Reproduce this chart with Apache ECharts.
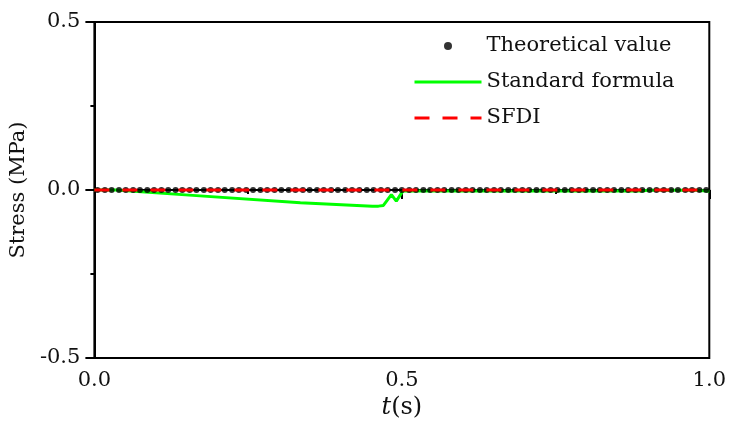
<!DOCTYPE html>
<html>
<head>
<meta charset="utf-8">
<script src="https://cdn.jsdelivr.net/npm/echarts@6/dist/echarts.min.js"></script>
<style>html,body{margin:0;padding:0;background:#fff}#c{width:729px;height:427px}</style>
</head>
<body>
<div id="c"></div>
<script>
// Theoretical value sample times (s) and stress (MPa)
var theoryTime = [0.005,0.017,0.028,0.040,0.051,0.063,0.074,0.086,0.097,0.109,0.120,0.132,0.143,0.155,0.166,0.178,0.189,0.201,0.212,0.224,0.235,0.247,0.258,0.270,0.281,0.293,0.304,0.316,0.327,0.339,0.350,0.362,0.373,0.385,0.396,0.408,0.419,0.431,0.443,0.454,0.466,0.477,0.489,0.500,0.512,0.523,0.535,0.546,0.558,0.569,0.581,0.592,0.604,0.615,0.627,0.638,0.650,0.661,0.673,0.684,0.696,0.707,0.719,0.730,0.742,0.753,0.765,0.776,0.788,0.799,0.811,0.822,0.834,0.845,0.857,0.868,0.880,0.891,0.903,0.914,0.926,0.938,0.949,0.961,0.972,0.984,0.995];
var theoryStress = [0,0,0,0,0,0,0,0,0,0,0,0,0,0,0,0,0,0,0,0,0,0,0,0,0,0,0,0,0,0,0,0,0,0,0,0,0,0,0,0,0,0,0,0,0,0,0,0,0,0,0,0,0,0,0,0,0,0,0,0,0,0,0,0,0,0,0,0,0,0,0,0,0,0,0,0,0,0,0,0,0,0,0,0,0,0,0];
// Standard formula
var stdTime   = [0, 0.035, 0.16, 0.335, 0.452, 0.462, 0.470, 0.483, 0.491, 0.502, 0.52, 0.89, 0.90, 0.98, 1.0];
var stdStress = [0, 0, -0.016, -0.038, -0.048, -0.048, -0.046, -0.014, -0.033, -0.002, -0.003, -0.003, -0.001, -0.001, -0.004];
// SFDI
var sfdiTime   = [0, 0.25, 0.5, 0.75, 1.0];
var sfdiStress = [0, 0, 0, 0, 0];
// axes
var xMin = 0, xMax = 1, xStep = 0.5;
var yMin = -0.5, yMax = 0.5, yStep = 0.5;

function pairs(a, b) { return a.map(function (v, i) { return [v, b[i]]; }); }

var FONT = 'DejaVu Serif';
var TXT = '#111';
var chart = echarts.init(document.getElementById('c'), null, {renderer: 'canvas'});
chart.setOption({
  animation: false,
  backgroundColor: '#fff',
  grid: {left: 93, right: 18, top: 22, bottom: 69, show: true, borderColor: '#000', borderWidth: 2, backgroundColor: 'transparent'},
  legend: {
    orient: 'vertical', left: 408, top: 29,
    itemWidth: 67, itemHeight: 8, itemGap: 12,
    textStyle: {fontFamily: FONT, fontSize: 21, color: TXT, lineHeight: 24},
    data: [
      {name: 'Theoretical value', itemStyle: {color: '#000'}},
      {name: 'Standard formula', itemStyle: {opacity: 0}, lineStyle: {width: 3}},
      {name: 'SFDI', itemStyle: {opacity: 0}, lineStyle: {width: 3}}
    ]
  },
  xAxis: {
    type: 'value', min: xMin, max: xMax, interval: xStep,
    name: '{i|t}(s)', nameLocation: 'middle', nameGap: 36,
    nameTextStyle: {fontFamily: FONT, fontSize: 24, color: TXT, rich: {i: {fontFamily: FONT, fontStyle: 'italic', fontSize: 24, color: TXT}}},
    axisLine: {lineStyle: {color: '#000', width: 2}},
    axisTick: {inside: false, length: 9, lineStyle: {color: '#000', width: 2}},
    minorTick: {show: true, splitNumber: 2, length: 4, lineStyle: {color: '#000', width: 2}},
    splitLine: {show: false},
    axisLabel: {fontFamily: FONT, fontSize: 21, color: TXT, margin: 12, formatter: function (v) { return v.toFixed(1); }}
  },
  yAxis: {
    type: 'value', min: yMin, max: yMax, interval: yStep,
    name: 'Stress (MPa)', nameLocation: 'middle', nameGap: 52,
    nameTextStyle: {fontFamily: FONT, fontSize: 21, color: TXT},
    axisLine: {lineStyle: {color: '#000', width: 2}},
    axisTick: {inside: false, length: 9, lineStyle: {color: '#000', width: 2}},
    minorTick: {show: true, splitNumber: 2, length: 4, lineStyle: {color: '#000', width: 2}},
    splitLine: {show: false},
    axisLabel: {fontFamily: FONT, fontSize: 21, color: TXT, margin: 14, formatter: function (v) { return v.toFixed(1); }}
  },
  series: [
    {
      name: 'Theoretical value', type: 'scatter', z: 3,
      data: pairs(theoryTime, theoryStress),
      symbol: 'circle', symbolSize: 6,
      itemStyle: {color: '#000'}
    },
    {
      name: 'Standard formula', type: 'line', z: 2,
      data: pairs(stdTime, stdStress),
      showSymbol: false, symbol: 'none',
      lineStyle: {color: '#00ff00', width: 3},
      itemStyle: {color: '#00ff00'}
    },
    {
      name: 'SFDI', type: 'line', z: 4,
      data: pairs(sfdiTime, sfdiStress),
      showSymbol: false, symbol: 'none',
      lineStyle: {color: '#ff0000', width: 3, type: [15, 13]},
      itemStyle: {color: '#ff0000'}
    }
  ]
});
</script>
</body>
</html>
